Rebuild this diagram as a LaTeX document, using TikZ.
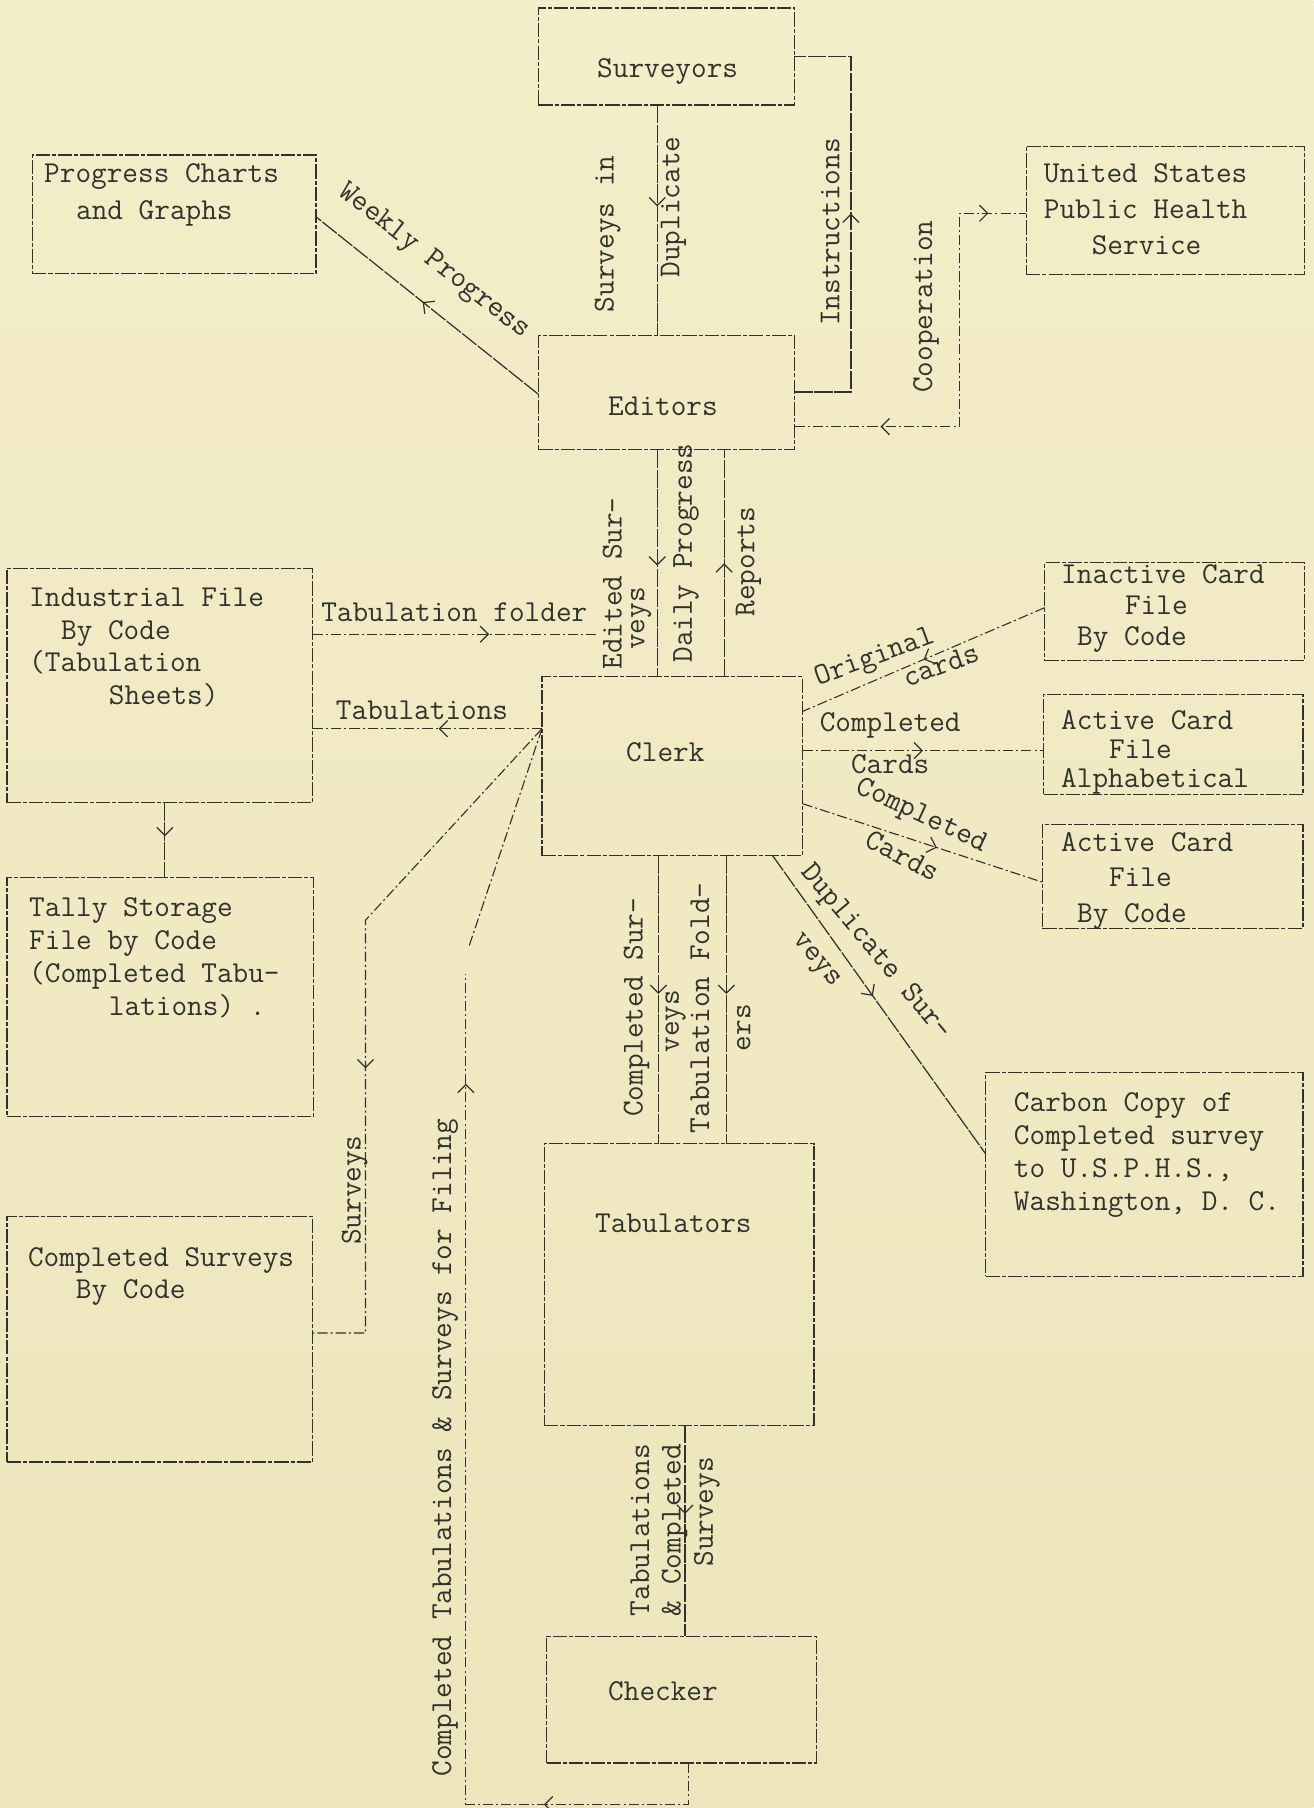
\documentclass[tikz,border=0pt]{standalone}
\usepackage{fontspec}
\usetikzlibrary{arrows.meta,decorations.markings}
\definecolor{paper}{RGB}{243,237,201}
\definecolor{paperlow}{RGB}{237,229,187}
\definecolor{ink}{RGB}{50,50,45}
\newcommand{\tsp}[1]{\hspace*{#1\dimexpr0.525em\relax}}

\begin{document}
\begin{tikzpicture}[x=0.02cm, y=-0.02cm, >={Straight Barb[length=4pt,width=8pt]},
	tw/.style={font=\fontsize{15}{16.2}\selectfont\ttfamily, text=ink, inner sep=0pt, align=left},
	box/.style={draw=ink, line width=0.6pt, dash pattern=on 7pt off 1pt on 2pt off 1pt, inner sep=0pt, outer sep=0pt},
	sz/.style 2 args={minimum width=#1*0.02cm, minimum height=#2*0.02cm},
	ln/.style={draw=ink, line width=0.6pt, dash pattern=on 9pt off 0.8pt},
	dd/.style={draw=ink, line width=0.55pt, dash pattern=on 5pt off 1.5pt on 1pt off 1.5pt},
	fwd/.style={postaction={decorate, decoration={markings, mark=at position #1 with {\arrow[ink, line width=0.6pt]{>}}}}},
	bwd/.style={postaction={decorate, decoration={markings, mark=at position #1 with {\arrow[ink, line width=0.6pt]{<}}}}}]
			\useasboundingbox (0,0) rectangle (1139,1568);
			\shade[top color=paper, bottom color=paperlow] (0,0) rectangle (1139,1568);

			\node[box, sz={222}{84}] (surveyors) at (578,49) {};
			\node[box, sz={246}{103}] (progress) at (151,186) {};
			\node[box, sz={241}{111}] (usphs) at (1010.5,182.5) {};
			\node[box, sz={222}{99}] (editors) at (578,340.5) {};
			\node[box, sz={265}{203}] (industrial) at (138.5,594.5) {};
			\node[box, sz={225}{85}] (inactive) at (1018.5,530.5) {};
			\node[box, sz={226}{155}] (clerk) at (583,664.5) {};
			\node[box, sz={225}{87}] (activea) at (1017.5,645.5) {};
			\node[box, sz={226}{90}] (activec) at (1017,760) {};
			\node[box, sz={266}{207}] (tally) at (139,864.5) {};
			\node[box, sz={275}{177}] (carbon) at (992.5,1018.5) {};
			\node[box, sz={234}{244}] (tabulators) at (589,1114) {};
			\node[box, sz={265}{213}] (compsurv) at (138.5,1161.5) {};
			\node[box, sz={234}{110}] (checker) at (591,1474) {};

			\node[tw] (surveyorst) at (579,62) {Surveyors};
			\node[tw, anchor=west] (progresst) at (38,169) {Progress Charts\\[2pt]\tsp{2}and Graphs};
			\node[tw, anchor=west] (usphst) at (905,181.5) {United States\\[1.4pt]Public Health\\[1.4pt]\tsp{3}Service};
			\node[tw] (editorst) at (575,352) {Editors};
			\node[tw, anchor=west] (industrialt) at (25,561.5) {Industrial File\\\tsp{2}By Code\\(Tabulation\\\tsp{5}Sheets)};
			\node[tw, anchor=west] (inactivet) at (920,527.5) {Inactive Card\\[-0.8pt]\tsp{4}File\\[-0.8pt]\tsp{1}By Code};
			\node[tw] (clerkt) at (577,652) {Clerk};
			\node[tw, anchor=west] (activeat) at (920,652.5) {Active Card\\[-1.7pt]\tsp{3}File\\[-1.7pt]Alphabetical};
			\node[tw, anchor=west] (activect) at (920,764) {Active Card\\[1.4pt]\tsp{3}File\\[1.4pt]\tsp{1}By Code};
			\node[tw, anchor=west] (tallyt) at (25,830.5) {Tally Storage\\File by Code\\(Completed Tabu-\\\tsp{5}lations) .};
			\node[tw, anchor=west] (carbont) at (879,1001.5) {Carbon Copy of\\Completed survey\\to U.S.P.H.S.,\\Washington, D. C.};
			\node[tw] (tabulatorst) at (584,1061) {Tabulators};
			\node[tw, anchor=west] (compsurvt) at (24,1107) {Completed Surveys\\\tsp{3}By Code};
			\node[tw] (checkert) at (575,1467) {Checker};

			\coordinate (tfend) at (518,550);
			\coordinate (filetop) at (407,820);

			\draw[ln, fwd=0.44] (surveyors.south -| 570,0) -- (editors.north -| 570,0);
			\draw[ln, fwd=0.524] (editors.east |- 0,340) -- ++(49,0) |- (surveyors.east |- 0,49);
			\draw[dd, bwd=0.215, fwd=0.915] (editors.east |- 0,370) -- ++(143,0) |- (usphs.west |- 0,185);
			\draw[ln, fwd=0.52] (editors.west |- 0,342) -- (progress.east |- 0,188);
			\draw[ln, fwd=0.51] (editors.south -| 570,0) -- (clerk.north -| 570,0);
			\draw[ln, fwd=0.5] (clerk.north -| 628,0) -- (editors.south -| 628,0);
			\draw[dd, fwd=0.62] (industrial.east |- 0,550) -- (tfend);
			\draw[dd, fwd=0.45] (clerk.west |- 0,632) -- (industrial.east |- 0,632);
			\draw[ln, fwd=0.45] (industrial.south -| 143,0) -- (tally.north -| 143,0);
			\draw[dd, fwd=0.562] (clerk.west |- 0,632) -- (317,798) |- (compsurv.east |- 0,1156);
			\draw[dd, fwd=0.17, fwd=0.9] (checker.south -| 597,0) |- (404,1565) -- (404,845);
			\draw[dd] (filetop) -- (clerk.west |- 0,632);
			\draw[ln, fwd=0.48] (clerk.south -| 571,0) -- (tabulators.north -| 571,0);
			\draw[ln, fwd=0.48] (clerk.south -| 630,0) -- (tabulators.north -| 630,0);
			\draw[ln, fwd=0.47] (clerk.south -| 670,0) -- (carbon.west |- 0,1001);
			\draw[dd, fwd=0.5] (inactive.west |- 0,527) -- (clerk.east |- 0,617);
			\draw[dd, fwd=0.5] (clerk.east |- 0,651) -- (activea.west |- 0,651);
			\draw[dd, fwd=0.56] (clerk.east |- 0,697) -- (activec.west |- 0,765);
			\draw[ln, fwd=0.42] (tabulators.south -| 594,0) -- (checker.north -| 594,0);

			\node[tw, rotate=90, anchor=west] (dupa) at (527,271) {Surveys in};
			\node[tw, rotate=90, anchor=west] (dupb) at (584,241) {Duplicate};
			\node[tw, rotate=90, anchor=west] (instr) at (720,283) {Instructions};
			\node[tw, rotate=90, anchor=west] (coop) at (803,341) {Cooperation};
			\node[tw, rotate=-38] (weekly) at (376,227) {Weekly Progress};
			\node[tw, rotate=90, anchor=west] (edita) at (531,581) {Edited Sur-};
			\node[tw, rotate=90, anchor=west] (editb) at (556,564) {veys};
			\node[tw, rotate=90, anchor=west] (daily) at (595,575) {Daily Progress};
			\node[tw, rotate=90, anchor=west] (reports) at (649,535) {Reports};
			\node[tw] (tfold) at (394,531) {Tabulation folder};
			\node[tw] (tabs) at (366,616) {Tabulations};
			\node[tw, rotate=20] (origa) at (759,571) {Original};
			\node[tw, rotate=20] (origb) at (816,577) {cards};
			\node[tw] (compa) at (772,629) {Completed};
			\node[tw] (compb) at (772,663) {Cards};
			\node[tw, rotate=-25] (compc) at (799,708) {Completed};
			\node[tw, rotate=-28] (compd) at (783,742) {Cards};
			\node[tw, rotate=-50] (dupsa) at (759,826) {Duplicate Sur-};
			\node[tw, rotate=-50] (dupsb) at (707,834) {veys};
			\node[tw, rotate=90, anchor=west] (csa) at (552,969) {Completed Sur-};
			\node[tw, rotate=90, anchor=west] (csb) at (586,913) {veys};
			\node[tw, rotate=90, anchor=west] (tfa) at (607,983) {Tabulation Fold-};
			\node[tw, rotate=90, anchor=west] (tfb) at (645,912) {ers};
			\node[tw, rotate=90, anchor=west] (surv) at (307.5,1080) {Surveys};
			\node[tw, rotate=90, anchor=west] (filing) at (386,1541) {Completed Tabulations \& Surveys for Filing};
			\node[tw, rotate=90, anchor=west] (tca) at (555,1402) {Tabulations};
			\node[tw, rotate=90, anchor=west] (tcb) at (585,1402) {\& Completed};
			\node[tw, rotate=90, anchor=west] (tcc) at (613,1359) {Surveys};
		\end{tikzpicture}
\end{document}
